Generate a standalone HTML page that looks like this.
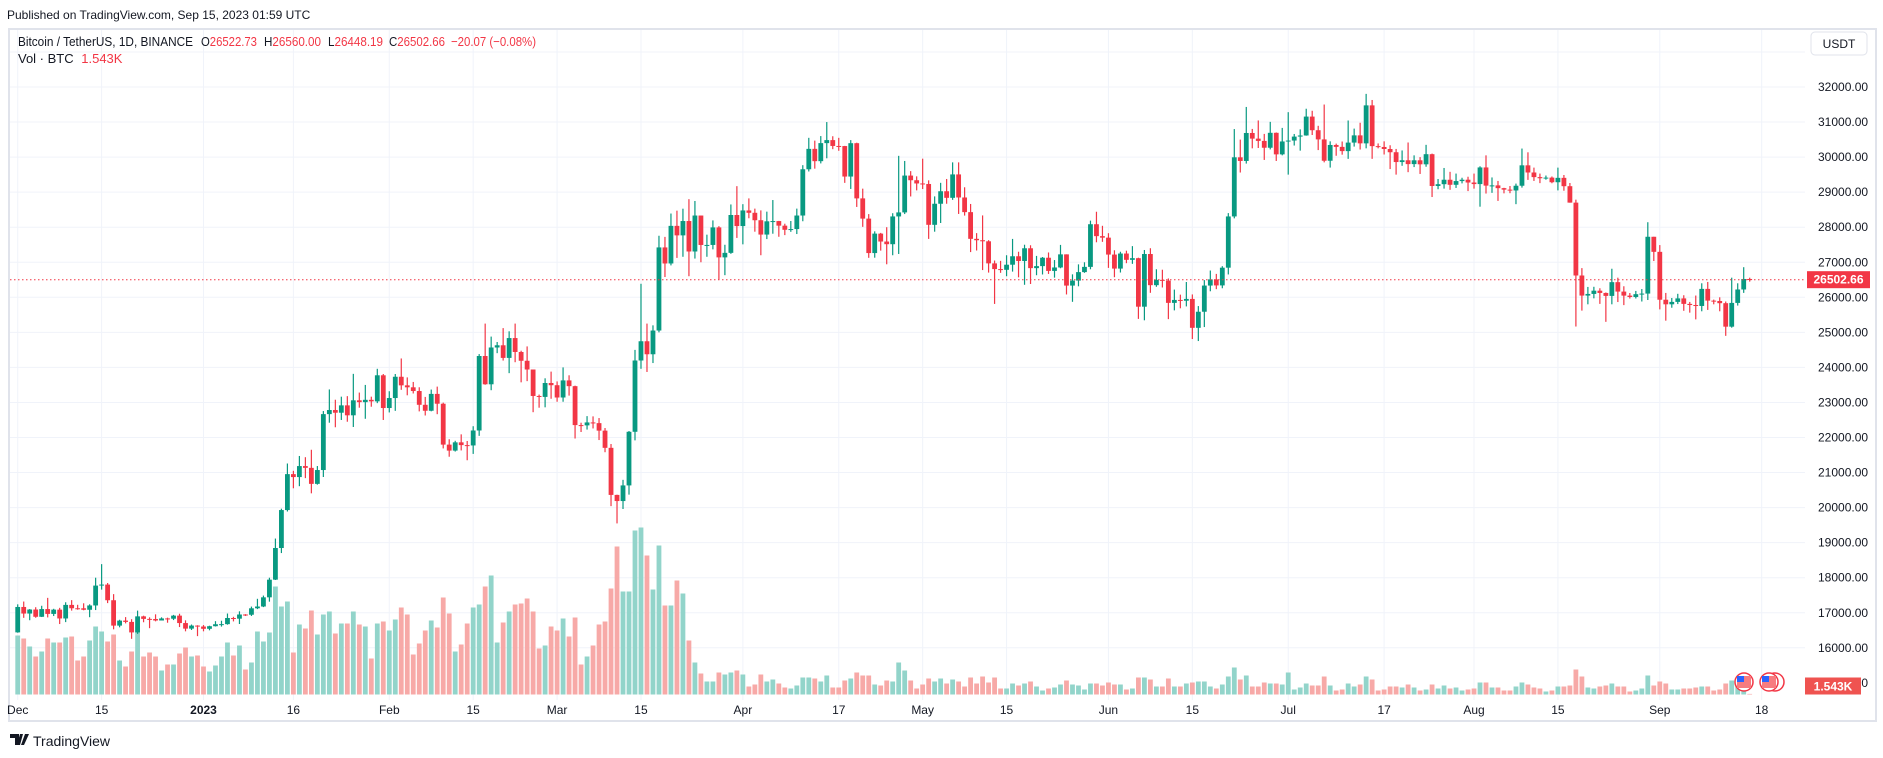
<!DOCTYPE html>
<html><head><meta charset="utf-8">
<style>
html,body{margin:0;padding:0;background:#fff;width:1883px;height:758px;overflow:hidden;font-family:"Liberation Sans",sans-serif;}
svg{display:block}
text{font-family:"Liberation Sans",sans-serif;}
</style></head>
<body>
<svg id="chart" width="1883" height="758" viewBox="0 0 1883 758" xmlns="http://www.w3.org/2000/svg">
  <text x="7" y="19" font-size="12" fill="#131722">Published on TradingView.com, Sep 15, 2023 01:59 UTC</text>
  <rect x="9" y="29" width="1867" height="692" fill="#fff" stroke="#e0e3eb" stroke-width="2"/>
  <g id="grid"></g>
  <g id="vol"></g>
  <g id="candles"></g>
  <line x1="10" x2="1805" y1="279.7" y2="279.7" stroke="#f23645" stroke-width="1" stroke-dasharray="1.5,2.5"/>
  <g id="yaxis"></g>
  <g id="xaxis"></g>
  <g font-size="13">
    <text x="18" y="46" fill="#131722" textLength="175" lengthAdjust="spacingAndGlyphs">Bitcoin / TetherUS, 1D, BINANCE</text>
    <text x="201" y="46" fill="#131722" textLength="56" lengthAdjust="spacingAndGlyphs">O<tspan fill="#f23645">26522.73</tspan></text>
    <text x="264" y="46" fill="#131722" textLength="57" lengthAdjust="spacingAndGlyphs">H<tspan fill="#f23645">26560.00</tspan></text>
    <text x="328" y="46" fill="#131722" textLength="55" lengthAdjust="spacingAndGlyphs">L<tspan fill="#f23645">26448.19</tspan></text>
    <text x="389" y="46" fill="#131722" textLength="56" lengthAdjust="spacingAndGlyphs">C<tspan fill="#f23645">26502.66</tspan></text>
    <text x="451" y="46" fill="#f23645" textLength="85" lengthAdjust="spacingAndGlyphs">−20.07 (−0.08%)</text>
    <text x="18" y="63" fill="#131722">Vol · BTC <tspan fill="#f23645" dx="4">1.543K</tspan></text>
  </g>
  <g>
    <rect x="1811" y="32" width="56" height="23" rx="4" fill="#fff" stroke="#e0e3eb"/>
    <text x="1839" y="48" font-size="12" text-anchor="middle" fill="#131722">USDT</text>
  </g>
  <g>
    <circle cx="1744" cy="682" r="9" fill="#fff" stroke="#f23645" stroke-width="1.5"/>
    <rect x="1737" y="676" width="14" height="12" fill="#f77c80"/>
    <rect x="1737" y="676" width="7" height="6" fill="#2962ff"/>
  </g>
  <g>
    <circle cx="1775" cy="682" r="9" fill="#fff" stroke="#f23645" stroke-width="1.5"/>
    <circle cx="1769" cy="682" r="9" fill="#fff" stroke="#f23645" stroke-width="1.5"/>
    <rect x="1762" y="676" width="14" height="12" fill="#f77c80"/>
    <rect x="1762" y="676" width="7" height="6" fill="#2962ff"/>
  </g>
  <g>
    <path d="M10 734h9v11h-4v-7h-5z M20 734h3l-3 11h-3z M25 734h4l-5 11h-3z" fill="#131722"/>
    <text x="33" y="746" font-size="14" fill="#131722">TradingView</text>
  </g>
</svg>
<script>
const priceTicks=[16000,17000,18000,19000,20000,21000,22000,23000,24000,25000,26000,27000,28000,29000,30000,31000,32000];
const timeLabels=["Dec","15","2023","16","Feb","15","Mar","15","Apr","17","May","15","Jun","15","Jul","17","Aug","15","Sep","18"];
const timeLabelDays=[-31,-17,0,15,31,45,59,73,90,106,120,134,151,165,181,197,212,226,243,260];
const firstOpen=16440;
const closes=[17165,
16977,17092,16885,17105,16967,17089,16837,17224,17128,17127,17085,17208,17775,17804,17357,16633,16776,16739,16439,16897,16825,16822,16779,16838,16830,16918,16706,16547,16634,16607,16542,
16616,16672,16675,16850,16831,16950,16943,17127,17178,17440,17944,18847,19930,20955,20871,21185,21134,20677,21072,22667,22784,22707,22917,22633,23061,23009,23075,23031,23775,22841,23126,
23733,23488,23432,23326,22933,22763,23244,22964,21797,21626,21862,21783,21773,22200,24325,23518,24568,24631,24271,24837,24440,24189,23940,23185,23158,23555,23492,23141,
23629,23465,22354,22346,22430,22410,22196,21705,20362,20187,20633,22163,24197,24746,24375,25052,27423,26965,28038,27767,28176,27307,28333,27493,27494,27994,27139,27268,28348,28033,28478,
28411,28199,27790,28168,28175,28044,27926,27947,28333,29653,30235,29884,30399,30485,30318,30315,29445,30397,28822,28245,27262,27817,27591,27515,28307,28422,29473,29340,29248,29233,
28068,28669,29026,28838,29506,28848,28430,27668,27628,27598,26968,26805,26784,26930,27171,27036,27399,26832,26890,27129,26753,26851,27225,26334,26477,26719,26868,28085,27745,27702,27219,
26819,27249,27069,27116,25732,27235,26346,26498,26477,25841,25925,25902,25954,25129,25588,26335,26511,26339,26845,28307,29994,29890,30688,30527,30462,30267,30693,30078,30446,30472,
30585,30617,31156,30767,30505,29896,30346,30292,30171,30414,30620,30392,31476,30313,30289,30231,30139,29859,29910,29800,29909,29794,30083,29176,29227,29354,29210,29316,29355,29275,29230,
29705,29186,29193,29114,29072,29048,29183,29765,29561,29429,29397,29415,29283,29408,29170,28701,26622,26049,26096,26189,26124,26040,26432,26163,26048,26009,26089,26106,27727,27297,25931,
25800,25869,25969,25812,25780,25753,26240,25905,25895,25832,25162,25840,26223,26522.73,26502.66];
const highs=[17240,
17320,17105,17158,17199,17425,17113,17140,17299,17360,17227,17270,17241,18000,18387,17848,17531,16800,16876,16816,17061,16916,16869,16955,16869,16860,16939,16972,16784,16664,16644,16649,
16630,16760,16772,16978,16885,17041,16961,17176,17398,17490,18000,19117,19969,21258,21050,21473,21438,21650,21186,22755,23371,23078,23165,23180,23816,23282,23500,23165,23960,23812,23320,
23812,24255,23715,23585,23433,23158,23368,23452,22995,21950,21906,22090,21900,22322,24380,25250,24879,24725,25121,25030,25250,24476,24599,23896,23225,23689,23880,23600,
24000,23775,23479,22422,22610,22603,22555,22270,21814,20368,20792,22185,24500,26386,25250,25200,27756,27724,28390,28472,28528,28800,28748,28200,27787,28194,28030,27499,28649,29171,28657,
28822,28530,28480,28444,28775,28180,28100,28177,28530,29770,30550,30470,30600,31000,30595,30550,30320,30485,30411,29100,28374,27882,27838,28000,28399,30036,29890,29600,29451,29955,
29337,28879,29266,29376,29850,29850,29139,28663,27831,28336,27630,27050,27040,27200,27666,27300,27500,27485,27181,27150,27279,27063,27495,27216,26655,26940,26999,28187,28441,28040,27829,
27342,27300,27330,27460,27130,27350,27400,26800,26787,26538,26220,26076,26437,26082,25750,26491,26764,26668,26888,28402,30800,30499,31431,30804,31046,30662,31006,30703,30833,31282,
30660,30791,31380,31322,30893,31500,30450,30385,30445,31045,30813,30980,31804,31630,30390,30450,30338,30233,30190,30417,30050,30000,30350,30100,29375,29690,29580,29530,29411,29440,29530,
29738,30050,29420,29320,29124,29175,29244,30244,30137,29700,29530,29474,29447,29700,29489,29261,28786,26833,26296,26300,26258,26138,26815,26560,26315,26123,26182,26236,28142,27580,27490,
26125,25980,26100,26059,25868,26050,26400,26438,25934,26000,25880,26560,26400,26859,26560];
const lows=[16430,
16855,16787,16857,16878,16867,16906,16678,16733,17061,17087,17070,16873,17077,17660,17275,16527,16584,16697,16256,16398,16729,16560,16755,16793,16715,16791,16592,16470,16508,16333,16470,
16499,16608,16605,16659,16753,16679,16908,16908,17104,17161,17316,17934,18703,19889,20551,20611,20841,20407,20655,20873,22422,22292,22500,22450,22300,22850,22534,22878,22980,22500,22715,
22760,23360,23204,23256,22745,22628,22747,22665,21688,21451,21599,21631,21351,21532,22047,23505,23349,24406,24195,23836,24148,23574,23608,22722,22850,22861,23105,23020,
23020,23195,21971,22157,22226,22258,21927,21580,20042,19549,19960,20370,21918,23960,23870,24124,25000,26578,26910,27124,27156,26601,27105,27000,27156,27368,26508,26631,27240,27694,27511,
28255,27872,27200,27661,27814,27727,27774,27868,27805,28170,29590,29670,29820,29966,30226,30180,29265,29091,28578,28010,27126,27130,27332,26942,27200,27236,28375,28877,29050,29089,
27666,27872,28120,28669,28780,28378,28331,27290,27335,26777,26705,25811,26698,26601,26733,26570,26357,26380,26630,26651,26666,26561,26829,26081,25871,26314,26698,26800,27570,27582,26839,
26573,26707,26973,26954,25384,25344,26128,26300,26280,25377,25627,25686,25740,24809,24752,25151,26172,26232,26258,26652,28252,29560,29815,30250,30260,29919,30220,29890,30050,29500,
30330,30184,30610,30630,30200,29850,29701,30038,30069,29950,30300,30216,30250,29950,30250,30074,29659,29500,29752,29570,29715,29519,29725,28861,29083,29100,29066,29120,29250,29030,29100,
28585,28960,28980,28750,28966,28970,28657,29129,29350,29320,29257,29355,29254,29050,29040,28700,25166,25620,25800,25970,25812,25300,25800,25865,25777,25965,25966,25880,25923,27035,25655,
25333,25702,25807,25615,25562,25370,25601,25640,25800,25601,24900,25133,25764,26126,26448.19];
const volumesK=[236,
224,192,152,172,224,208,208,228,232,136,152,216,272,252,212,240,136,112,172,272,152,168,152,96,120,120,164,188,152,156,112,
92,116,152,208,156,196,100,128,252,212,248,432,352,372,168,280,264,336,240,320,332,244,284,284,332,280,272,144,284,292,256,
300,348,320,160,204,256,296,268,388,324,172,200,284,348,360,432,476,208,288,332,360,364,384,332,184,196,272,256,
304,232,308,120,152,196,280,292,424,592,412,412,656,668,556,420,596,356,356,456,404,216,128,84,52,52,88,80,88,96,80,
32,40,80,52,60,44,28,24,36,68,68,64,52,76,28,28,56,64,88,76,76,40,36,56,52,128,96,56,24,40,
64,52,64,44,60,52,32,68,44,72,48,68,24,24,44,36,44,52,32,16,24,28,40,56,40,36,20,44,44,36,48,
40,40,20,24,68,68,60,32,32,64,32,32,44,48,52,52,32,24,40,72,108,60,76,32,32,48,44,44,40,88,
20,28,44,36,36,72,36,16,20,44,32,40,72,60,16,20,32,32,28,40,28,16,20,40,24,36,24,28,16,20,24,
48,48,28,28,16,16,32,48,40,28,24,12,16,32,32,36,100,72,28,24,32,36,44,32,32,12,16,24,76,36,52,
44,20,20,24,24,28,32,32,16,20,44,56,36,24,1.543];

const NS="http://www.w3.org/2000/svg";
const X0=203.5, DX=5.993, FIRST_DAY=-31;
const xOf=d=>X0+d*DX;
const yPrice=p=>87+(32000-p)*0.03505;
const VOL_BASE=694.5, VOL_PX_PER_K=0.25;
const yVol=v=>VOL_BASE-v*VOL_PX_PER_K;
const GREEN="#089981", RED="#f23645", VGREEN="#92d4ca", VRED="#f7a9a7";
function mk(tag,attrs,parent){const e=document.createElementNS(NS,tag);for(const k in attrs)e.setAttribute(k,attrs[k]);parent.appendChild(e);return e;}

const grid=document.getElementById('grid');
[33000].concat(priceTicks).forEach(p=>{
  const l=mk('line',{x1:10,x2:1805,y1:yPrice(p),y2:yPrice(p),stroke:'#f0f3fa','stroke-width':1},grid);
  
  
});
timeLabelDays.forEach(d=>{
  const l=mk('line',{x1:xOf(d),x2:xOf(d),y1:30,y2:700,stroke:'#f0f3fa','stroke-width':1},grid);
  
  
});

const vol=document.getElementById('vol');
const cg=document.getElementById('candles');
for(let i=0;i<closes.length;i++){
  const d=FIRST_DAY+i, x=xOf(d);
  const o=i===0?firstOpen:closes[i-1], c=closes[i];
  const up=c>=o;
  const vh=Math.max(0.6,VOL_BASE-yVol(volumesK[i]));
  const vb=mk('rect',{x:x-2.4,y:VOL_BASE-vh,width:4.8,height:vh,fill:up?VGREEN:VRED},vol);
  
  
  const top=yPrice(Math.max(o,c)), bot=yPrice(Math.min(o,c));
  const hi=Math.min(yPrice(highs[i]),top), lo=Math.max(yPrice(lows[i]),bot);
  const w=mk('line',{x1:x,x2:x,y1:hi,y2:lo,stroke:up?GREEN:RED,'stroke-width':1.2},cg);
  
  
  const b=mk('rect',{x:x-2.4,y:top,width:4.8,height:Math.max(1,bot-top),fill:up?GREEN:RED},cg);
  
  
}

const ya=document.getElementById('yaxis');
priceTicks.concat([15000]).forEach(p=>{
  const t=mk('text',{x:1818,y:yPrice(p)+4,'font-size':12,fill:'#131722'},ya);
  t.textContent=p.toFixed(2);
  
  
});
const lastY=yPrice(closes[closes.length-1]);
const pb=mk('rect',{x:1807,y:lastY-8.5,width:63,height:17,fill:RED},ya);


const pt=mk('text',{x:1838.5,y:lastY+4,'font-size':12,'font-weight':'bold','text-anchor':'middle',fill:'#fff'},ya);
pt.textContent=closes[closes.length-1].toFixed(2);


const vb2=mk('rect',{x:1805,y:677.5,width:56,height:17,fill:'#ef5350'},ya);


const vt=mk('text',{x:1833,y:690.5,'font-size':12,'font-weight':'bold','text-anchor':'middle',fill:'#fff'},ya);
vt.textContent='1.543K';



const xa=document.getElementById('xaxis');
timeLabels.forEach((s,k)=>{
  const t=mk('text',{x:xOf(timeLabelDays[k]),y:714,'font-size':12,'text-anchor':'middle',fill:'#131722','font-weight':s==='2023'?'bold':'normal'},xa);
  t.textContent=s;
  
  
});
</script>
</body></html>
